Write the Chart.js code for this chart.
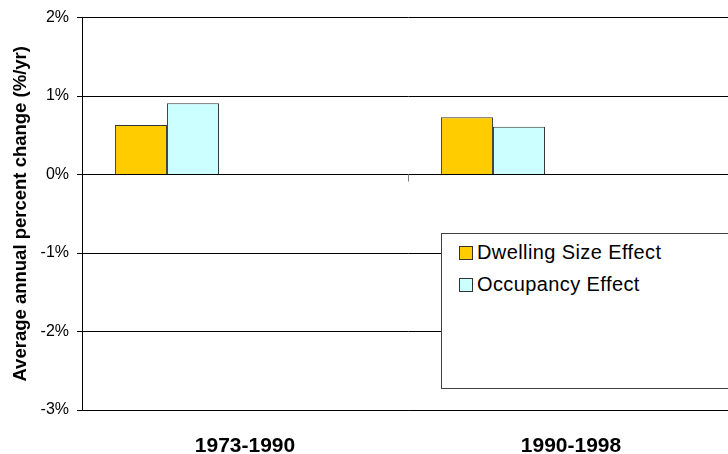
<!DOCTYPE html>
<html>
<head>
<meta charset="utf-8">
<script src="https://cdn.jsdelivr.net/npm/chart.js@4/dist/chart.umd.min.js"></script>
<style>
  html, body { margin: 0; padding: 0; background: #fff; overflow: hidden; }
  #wrap { position: relative; width: 740px; height: 454px; }
  #legend {
    position: absolute; left: 441px; top: 233px; width: 320px; height: 156px;
    background: #fff; border: 1px solid #404040; box-sizing: border-box;
    font-family: Arial, "Liberation Sans", sans-serif; font-size: 20px; letter-spacing: 0.4px; color: #000;
  }
  .item { position: absolute; left: 17px; height: 22px; line-height: 22px; white-space: nowrap; }
  .swatch { display: inline-block; width: 12px; height: 12px; border: 1px solid #333; vertical-align: -1px; margin-right: 4px; }
</style>
</head>
<body>
<div id="wrap">
  <canvas id="chart" width="740" height="454"></canvas>
  <div id="legend"></div>
</div>
<script>
// periods on the x axis
const periods = ['1973-1990', '1990-1998'];
// average annual percent change (%/yr)
const dwellingSize = [0.63, 0.73];
const occupancy = [0.91, 0.61];
// the source chart has three more (empty) series slots
const emptySeries = [null, null];
const yTicks = [-3, -2, -1, 0, 1, 2];

const seriesColors = ['#FFCC00', '#CCFFFF'];

// small tick marks on the zero line between categories
const zeroTicks = {
  id: 'zeroTicks',
  afterDatasetsDraw(chart) {
    const x = chart.scales.x;
    const y0 = chart.scales.y.getPixelForValue(0);
    const ctx = chart.ctx;
    ctx.save();
    ctx.strokeStyle = '#808080';
    ctx.lineWidth = 1;
    for (let i = 1; i < periods.length; i++) {
      const px = Math.round((x.getPixelForValue(i - 1) + x.getPixelForValue(i)) / 2) + 0.5;
      ctx.beginPath();
      ctx.moveTo(px, y0);
      ctx.lineTo(px, y0 + 7);
      ctx.stroke();
    }
    ctx.restore();
  }
};

const datasets = [
  { label: 'Dwelling Size Effect', data: dwellingSize, backgroundColor: seriesColors[0] },
  { label: 'Occupancy Effect', data: occupancy, backgroundColor: seriesColors[1] },
  { label: '', data: emptySeries },
  { label: '', data: emptySeries },
  { label: '', data: emptySeries }
].map(ds => ({ ...ds, borderColor: '#333', borderWidth: 1 }));

const chart = new Chart(document.getElementById('chart'), {
  type: 'bar',
  data: { labels: periods, datasets: datasets },
  options: {
    responsive: false,
    animation: false,
    categoryPercentage: 0.798,
    barPercentage: 1,
    layout: { padding: { left: 10, top: 16, right: 6, bottom: 0 } },
    plugins: { legend: { display: false }, tooltip: { enabled: false } },
    scales: {
      x: {
        grid: { display: false, drawTicks: false },
        border: { display: true, color: '#000' },
        ticks: {
          color: '#000',
          padding: 24,
          font: { family: 'Arial, "Liberation Sans"', size: 21, weight: 'bold' }
        },
        afterFit(scale) { scale.height = 44; }
      },
      y: {
        min: -3,
        max: 2,
        afterBuildTicks(scale) { scale.ticks = yTicks.map(v => ({ value: v })); },
        grid: { color: '#000', lineWidth: 1, tickLength: 5, tickColor: '#000' },
        border: { color: '#000' },
        ticks: {
          color: '#000',
          padding: 8,
          font: { family: 'Arial, "Liberation Sans"', size: 16 },
          callback: v => v + '%'
        },
        title: {
          display: true,
          text: 'Average annual percent change (%/yr)',
          color: '#000',
          padding: 0,
          font: { family: 'Arial, "Liberation Sans"', size: 18.5, weight: 'bold' }
        },
        afterFit(scale) { scale.width = 72; }
      }
    }
  },
  plugins: [zeroTicks]
});

// legend box from the named series
const legend = document.getElementById('legend');
datasets.filter(ds => ds.label).forEach((ds, i) => {
  const item = document.createElement('div');
  item.className = 'item';
  item.style.top = (7 + i * 31.5) + 'px';
  item.innerHTML = '<span class="swatch" style="background:' + ds.backgroundColor + '"></span>' + ds.label;
  legend.appendChild(item);
});
</script>
</body>
</html>
